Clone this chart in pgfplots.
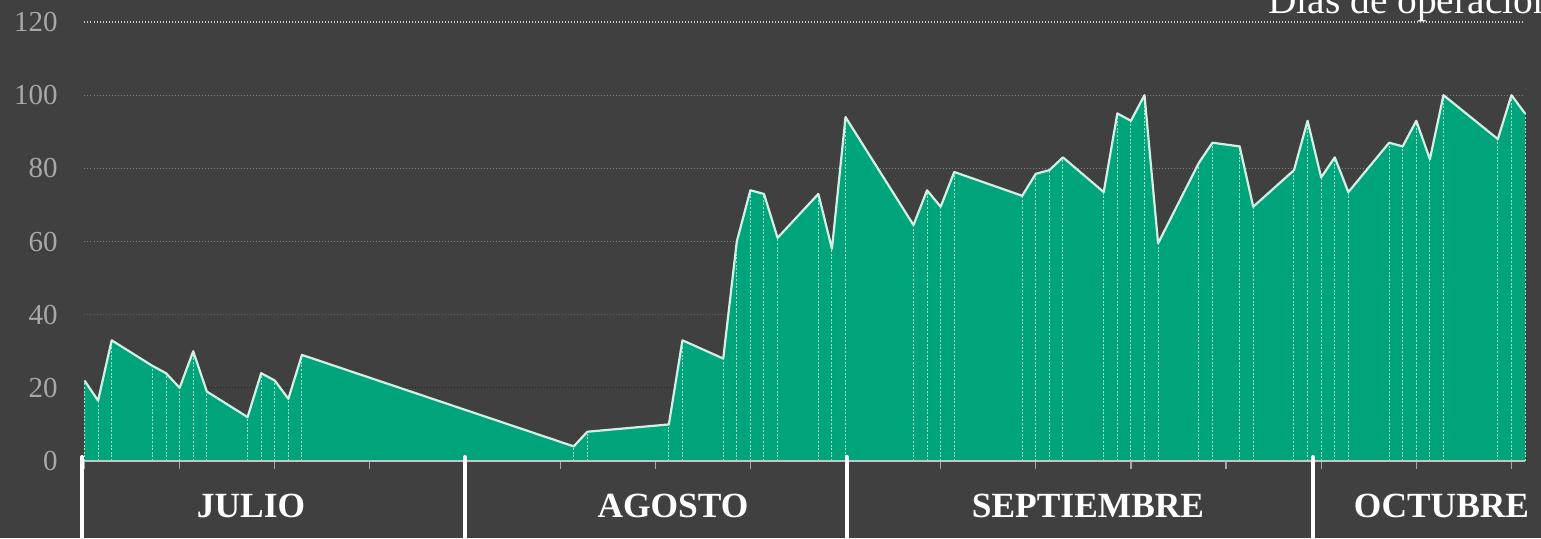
\documentclass[border=0pt]{standalone}
\usepackage{pgfplots}
\pgfplotsset{compat=1.18}
\usepackage{pgfplotstable}
\usepackage{fontspec}
\setmainfont{Liberation Serif}
\definecolor{bg}{HTML}{404040}
\definecolor{areagreen}{HTML}{00A47A}
\definecolor{topline}{HTML}{D2F1E4}
\definecolor{combcolor}{HTML}{A4E0CA}
\definecolor{axisgray}{HTML}{C4C4C4}
\definecolor{tickgray}{HTML}{A6A6A6}
\definecolor{labelgray}{HTML}{A8A8A8}
\definecolor{gridA}{HTML}{C8C8C8}
\definecolor{gridB}{HTML}{828282}
\definecolor{gridC}{HTML}{5E5E5E}
\definecolor{gridD}{HTML}{262626}

\pgfplotstableread{
x y
0 22
1 16.5
2 33
5 26
6 24
7 20
8 30
9 19
12 12
13 24
14 22
15 17
16 29
36 4
37 8
43 10
44 33
47 28
48 60
49 74
50 73
51 61
54 73
55 58
56 94
61 64.5
62 74
63 69.5
64 79
69 72.5
70 78.5
71 79.5
72 83
75 73.5
76 95
77 93
78 100
79 59.5
82 81.5
83 87
85 86
86 69.5
89 79.5
90 93
91 77.5
92 83
93 73.5
96 87
97 86
98 93
99 82.5
100 100
104 88
105 100
106 95
}\datatable

\begin{document}
\begin{tikzpicture}[x=1pt,y=1pt]
\useasboundingbox (0,0) rectangle (770.5,269);
\clip (0,0) rectangle (770.5,269);
\fill[bg] (0,0) rectangle (770.5,269);
\begin{axis}[
  at={(42.25pt,38.5pt)}, anchor=south west,
  scale only axis, width=720.25pt, height=219.5pt,
  xmin=0, xmax=106, ymin=0, ymax=120,
  clip=false, axis on top=true,
  axis x line=bottom, axis y line=left,
  y axis line style={draw=none},
  x axis line style={draw=axisgray, line width=1.15pt, -},
  xtick={0,7,...,105}, xticklabels={},
  xtick style={draw=tickgray, line width=0.6pt},
  tick align=outside, major tick length=4pt,
  ytick={0,20,...,120}, ytick style={draw=none},
  /pgf/number format/assume math mode=true,
  yticklabel style={font=\fontsize{14.5}{16}\selectfont, text=labelgray, anchor=east, inner sep=0pt, xshift=-9.25pt},
]
\draw[gridA, line width=0.6pt, dash pattern=on 0.5pt off 1pt] (axis cs:0,120) -- (axis cs:105.9,120);
\draw[gridB, line width=0.5pt, dash pattern=on 0.5pt off 1pt] (axis cs:0,100) -- (axis cs:105.9,100);
\draw[gridB, line width=0.5pt, dash pattern=on 0.5pt off 1pt] (axis cs:0,80) -- (axis cs:105.9,80);
\draw[gridB, line width=0.5pt, dash pattern=on 0.5pt off 1pt] (axis cs:0,60) -- (axis cs:105.9,60);
\draw[gridC, line width=0.5pt, dash pattern=on 0.5pt off 1pt] (axis cs:0,40) -- (axis cs:105.9,40);
\draw[gridD, line width=0.5pt, dash pattern=on 0.5pt off 1pt] (axis cs:0,20) -- (axis cs:105.9,20);
\addplot[fill=areagreen, draw=none] table[x=x,y=y]{\datatable} \closedcycle;
\addplot[ycomb, draw=combcolor, line width=0.5pt, dash pattern=on 1pt off 0.8pt, mark=none] table[x=x,y=y]{\datatable};
\addplot[draw=topline, line width=1.1pt, mark=none, line join=round] table[x=x,y=y]{\datatable};
\end{axis}
\foreach \sx in {41,232.5,423.5,656.5}
  \draw[white, line width=2pt, line cap=round] (\sx,40.5) -- (\sx,-5);
\begin{scope}[every node/.style={anchor=base, text=white, inner sep=0pt, font=\fontsize{17.7}{20}\selectfont\bfseries}]
\node at (125.5,10.5) {JULIO};
\node at (336.5,10.5) {AGOSTO};
\node at (544,10.5) {SEPTIEMBRE};
\node at (720.75,10.5) {OCTUBRE};
\end{scope}
\node[anchor=base west, inner sep=0pt, text=white, font=\fontsize{19.7}{22}\selectfont] at (634,262.5) {Días de operación};
\end{tikzpicture}
\end{document}
